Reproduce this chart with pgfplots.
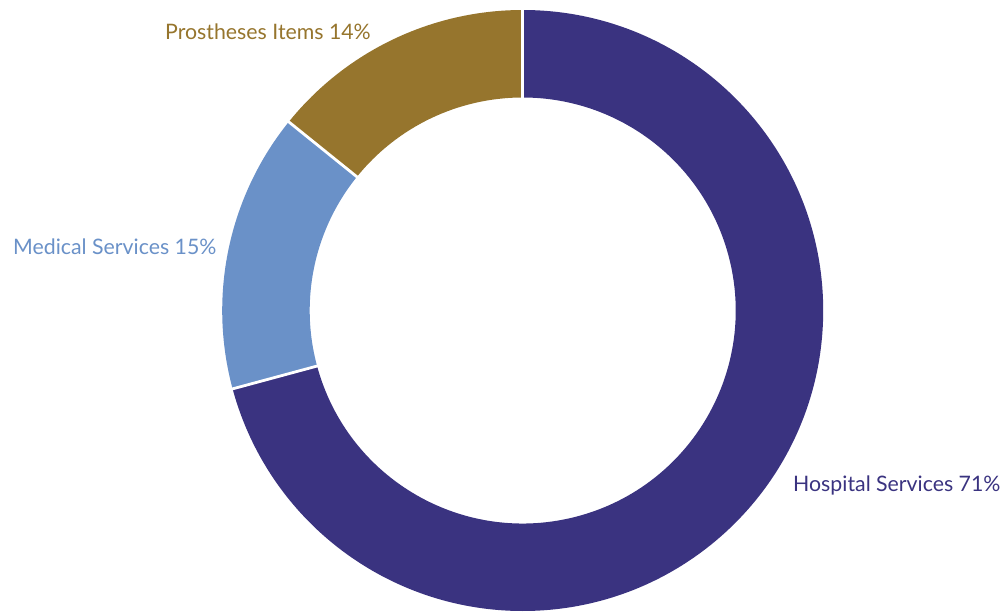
\documentclass[border=0pt]{standalone}
\usepackage{pgfplots}
\usepackage{pgfplotstable}
\pgfplotsset{compat=1.18}
\usepackage{fontspec}
\setmainfont{Lato}
\definecolor{hosp}{HTML}{3A3380}
\definecolor{med}{HTML}{6A91C8}
\definecolor{pros}{HTML}{96752D}
\pgfplotstableread{
label value
Hospital 70.8
Medical 15.0
Prostheses 14.2
}\data
\begin{document}
\begin{tikzpicture}
\pgfplotstablegetelem{0}{value}\of\data \let\vA\pgfplotsretval
\pgfplotstablegetelem{1}{value}\of\data \let\vB\pgfplotsretval
\pgfplotstablegetelem{2}{value}\of\data \let\vC\pgfplotsretval
\pgfmathsetmacro\aA{90}
\pgfmathsetmacro\aB{\aA-3.6*\vA}
\pgfmathsetmacro\aC{\aB-3.6*\vB}
\pgfmathsetmacro\aD{\aC-3.6*\vC}
\def\cx{522.7}\def\cy{300.5}\def\R{300.5}\def\r{213}
\begin{axis}[x=1pt,y=1pt,xmin=0,xmax=1002,ymin=0,ymax=611,hide axis,clip=false,
  scale only axis]
\path (axis cs:0,0) rectangle (axis cs:1002,611);
\fill[hosp] (axis cs:{\cx+\R*cos(\aA)},{\cy+\R*sin(\aA)}) arc[start angle=\aA,end angle=\aB,radius=\R pt]
  -- (axis cs:{\cx+\r*cos(\aB)},{\cy+\r*sin(\aB)}) arc[start angle=\aB,end angle=\aA,radius=\r pt] -- cycle;
\fill[med] (axis cs:{\cx+\R*cos(\aB)},{\cy+\R*sin(\aB)}) arc[start angle=\aB,end angle=\aC,radius=\R pt]
  -- (axis cs:{\cx+\r*cos(\aC)},{\cy+\r*sin(\aC)}) arc[start angle=\aC,end angle=\aB,radius=\r pt] -- cycle;
\fill[pros] (axis cs:{\cx+\R*cos(\aC)},{\cy+\R*sin(\aC)}) arc[start angle=\aC,end angle=\aD,radius=\R pt]
  -- (axis cs:{\cx+\r*cos(\aD)},{\cy+\r*sin(\aD)}) arc[start angle=\aD,end angle=\aC,radius=\r pt] -- cycle;
\foreach \a in {\aA,\aB,\aC}{
  \edef\tmp{\noexpand\draw[white,line width=2.8pt] (axis cs:{\cx+(\r-2)*cos(\a)},{\cy+(\r-2)*sin(\a)}) -- (axis cs:{\cx+(\R+2)*cos(\a)},{\cy+(\R+2)*sin(\a)});}\tmp
}
\node[anchor=base west,inner sep=0pt,text=hosp,font=\fontsize{21.3}{24}\selectfont] at (axis cs:793,119) {Hospital Services 71\%};
\node[anchor=base west,inner sep=0pt,text=med,font=\fontsize{21.3}{24}\selectfont] at (axis cs:13,356) {Medical Services 15\%};
\node[anchor=base west,inner sep=0pt,text=pros,font=\fontsize{21.3}{24}\selectfont] at (axis cs:165,571) {Prostheses Items 14\%};
\end{axis}
\end{tikzpicture}
\end{document}
